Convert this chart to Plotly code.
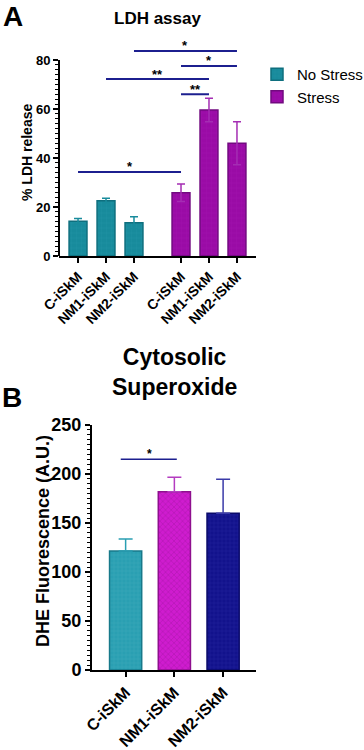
import plotly.graph_objects as go

# ---------------- Data ----------------
# Panel A: LDH assay
lines_a = ["C-iSkM", "NM1-iSkM", "NM2-iSkM"]
pos_nostress = [0, 1, 2]
pos_stress = [3.68, 4.68, 5.68]
ldh_nostress = [14.2, 22.6, 13.6]
ldh_nostress_err = [1.1, 1.0, 2.4]
ldh_stress = [25.8, 59.6, 46.0]
ldh_stress_err = [3.6, 4.8, 8.8]
# significance brackets: (x from, x to, y, label)
sig_a_x0 = [2, 3.68, 1, 3.68, 0]
sig_a_x1 = [5.68, 5.68, 4.68, 4.68, 3.68]
sig_a_y = [83.7, 77.6, 72.2, 66.0, 34.3]
sig_a_lab = ["*", "*", "**", "**", "*"]
ticks_a = [0, 20, 40, 60, 80]

# Panel B: Cytosolic superoxide
lines_b = ["C-iSkM", "NM1-iSkM", "NM2-iSkM"]
pos_b = [0, 1, 2]
dhe = [121.5, 182.0, 160.0]
dhe_err = [12.2, 14.6, 34.6]
sig_b_x0 = [0]
sig_b_x1 = [1]
sig_b_y = [215]
sig_b_lab = ["*"]
ticks_b = [0, 50, 100, 150, 200, 250]

# ---------------- Styles ----------------
FONT = "Liberation Sans, Arial, sans-serif"
TEAL = "#188b9c"
TEAL_LINE = "#0e6f7e"
PURPLE = "#9a0ba6"
PURPLE_LINE = "#720a80"
PURPLE_ERR = "#a42db3"
SIG = "#1c1f8f"
colors_b = ["#2a9fb2", "#cf1ccf", "#12128c"]
lines_col_b = ["#17798a", "#8e0f8e", "#0a0a6a"]
err_col_b = ["#2a9fb2", "#b43cc0", "#3a3aa8"]
pattern_b = ["+", "x", "+"]
pat_fg_b = ["#4bb0c0", "#8a108a", "#2c2ca8"]

W, H = 364, 750
def px(x):
    return x / W
def py(y):
    return 1 - y / H

fig = go.Figure()

# Panel A bars
fig.add_trace(go.Bar(
    x=pos_nostress, y=ldh_nostress, width=0.64, name="No Stress",
    marker=dict(color=TEAL, line=dict(color=TEAL_LINE, width=1.5),
                pattern=dict(shape="+", fgcolor="#2a9aab", size=5, solidity=0.15)),
    error_y=dict(type="data", array=ldh_nostress_err, color=TEAL, thickness=1.5, width=4),
    xaxis="x", yaxis="y", showlegend=True))
fig.add_trace(go.Bar(
    x=pos_stress, y=ldh_stress, width=0.64, name="Stress",
    marker=dict(color=PURPLE, line=dict(color=PURPLE_LINE, width=1.5),
                pattern=dict(shape="+", fgcolor="#a81ab3", size=5, solidity=0.15)),
    error_y=dict(type="data", array=ldh_stress_err, color=PURPLE_ERR, thickness=1.5, width=4),
    xaxis="x", yaxis="y", showlegend=True))

# Panel B bars
for i in range(len(pos_b)):
    fig.add_trace(go.Bar(
        x=[pos_b[i]], y=[dhe[i]], width=0.66, showlegend=False,
        marker=dict(color=colors_b[i], line=dict(color=lines_col_b[i], width=1.5),
                    pattern=dict(shape=pattern_b[i], fgcolor=pat_fg_b[i], size=4, solidity=0.25)),
        error_y=dict(type="data", symmetric=False, array=[dhe_err[i]], arrayminus=[0],
                     color=err_col_b[i], thickness=1.5, width=7),
        xaxis="x2", yaxis="y2"))

annotations = []
shapes = []

# significance lines A
for x0, x1, y, lab in zip(sig_a_x0, sig_a_x1, sig_a_y, sig_a_lab):
    shapes.append(dict(type="line", xref="x", yref="y", x0=x0, x1=x1, y0=y, y1=y,
                       line=dict(color=SIG, width=2)))
    annotations.append(dict(xref="x", yref="y", x=(x0 + x1) / 2, y=y, text="<b>" + lab + "</b>",
                            showarrow=False, xanchor="center", yanchor="middle", yshift=5,
                            font=dict(family=FONT, size=13, color="black")))
for x0, x1, y, lab in zip(sig_b_x0, sig_b_x1, sig_b_y, sig_b_lab):
    shapes.append(dict(type="line", xref="x2", yref="y2", x0=x0 - 0.1, x1=x1 + 0.05, y0=y, y1=y,
                       line=dict(color=SIG, width=1.5)))
    annotations.append(dict(xref="x2", yref="y2", x=(x0 + x1) / 2 - 0.02, y=y, text="<b>" + lab + "</b>",
                            showarrow=False, xanchor="center", yanchor="middle", yshift=5,
                            font=dict(family=FONT, size=12, color="black")))

# y axis line for panel A (only 0..80)
shapes.append(dict(type="line", xref="x domain", yref="y", x0=0, x1=0, y0=0, y1=ticks_a[-1],
                   line=dict(color="black", width=2)))

def label(x, y, text, size, angle=0):
    return dict(xref="paper", yref="paper", x=px(x), y=py(y), text=text, showarrow=False,
                xanchor="center", yanchor="middle", textangle=angle,
                font=dict(family=FONT, size=size, color="black"))

# titles / labels
annotations += [
    label(13, 17, "<b>A</b>", 28),
    label(157, 19, "<b>LDH assay</b>", 17),
    label(27, 153, "<b>% LDH release</b>", 14, -90),
    label(12, 398, "<b>B</b>", 28),
    label(174, 372, "<b>Cytosolic<br>Superoxide</b>", 23),
    label(43, 541, "<b>DHE Fluorescence (A.U.)</b>", 18, -90),
]

minor_a = [v for v in range(0, 81, 2) if v % 20 != 0]
minor_b = [v for v in range(0, 251, 5) if v % 50 != 0]

fig.update_layout(
    width=W, height=H,
    margin=dict(l=0, r=0, t=0, b=0, pad=0, autoexpand=False),
    paper_bgcolor="white", plot_bgcolor="white",
    barmode="overlay",
    font=dict(family=FONT, color="black"),
    showlegend=True,
    legend=dict(x=px(257), y=py(58), xanchor="left", yanchor="top",
                font=dict(family=FONT, size=15, color="black"),
                bgcolor="rgba(0,0,0,0)", itemwidth=30, tracegroupgap=0),
    xaxis=dict(domain=[px(59), px(256)], range=[-0.68, 6.36], automargin=False,
               tickmode="array", tickvals=pos_nostress + pos_stress, ticktext=lines_a + lines_a,
               tickangle=-45, ticks="outside", ticklen=5, tickwidth=1.5, tickcolor="black",
               tickfont=dict(family=FONT, size=14, color="black", weight="bold"),
               showline=True, linecolor="black", linewidth=2, showgrid=False, zeroline=False,
               anchor="y"),
    yaxis=dict(domain=[py(256), py(256 - 90 * 2.45)], range=[0, 90], automargin=False,
               tickmode="array", tickvals=ticks_a, ticks="outside", ticklen=5, tickwidth=2,
               tickcolor="black",
               tickfont=dict(family=FONT, size=13, color="black", weight="bold"),
               minor=dict(tickmode="array", tickvals=minor_a, ticks="outside", ticklen=3,
                          tickwidth=1, tickcolor="black"),
               showline=False, showgrid=False, zeroline=False, anchor="x"),
    xaxis2=dict(domain=[px(92), px(256)], range=[-0.69, 2.675], automargin=False,
                tickmode="array", tickvals=pos_b, ticktext=lines_b,
                tickangle=-45, ticks="outside", ticklen=5, tickwidth=1.5, tickcolor="black",
                tickfont=dict(family=FONT, size=16, color="black", weight="bold"),
                showline=True, linecolor="black", linewidth=2, showgrid=False, zeroline=False,
                anchor="y2"),
    yaxis2=dict(domain=[py(670), py(425)], range=[0, 250], automargin=False,
                tickmode="array", tickvals=ticks_b, ticks="outside", ticklen=5, tickwidth=2,
                tickcolor="black",
                tickfont=dict(family=FONT, size=18, color="black", weight="bold"),
                minor=dict(tickmode="array", tickvals=minor_b, ticks="outside", ticklen=3,
                           tickwidth=1, tickcolor="black"),
                showline=True, linecolor="black", linewidth=2, showgrid=False, zeroline=False,
                anchor="x2"),
    annotations=annotations,
    shapes=shapes,
)

fig.write_html("out.html", config={"displayModeBar": False},
               post_script="document.body.style.margin='0';document.body.style.overflow='hidden';"
                           "document.documentElement.style.overflow='hidden';")
